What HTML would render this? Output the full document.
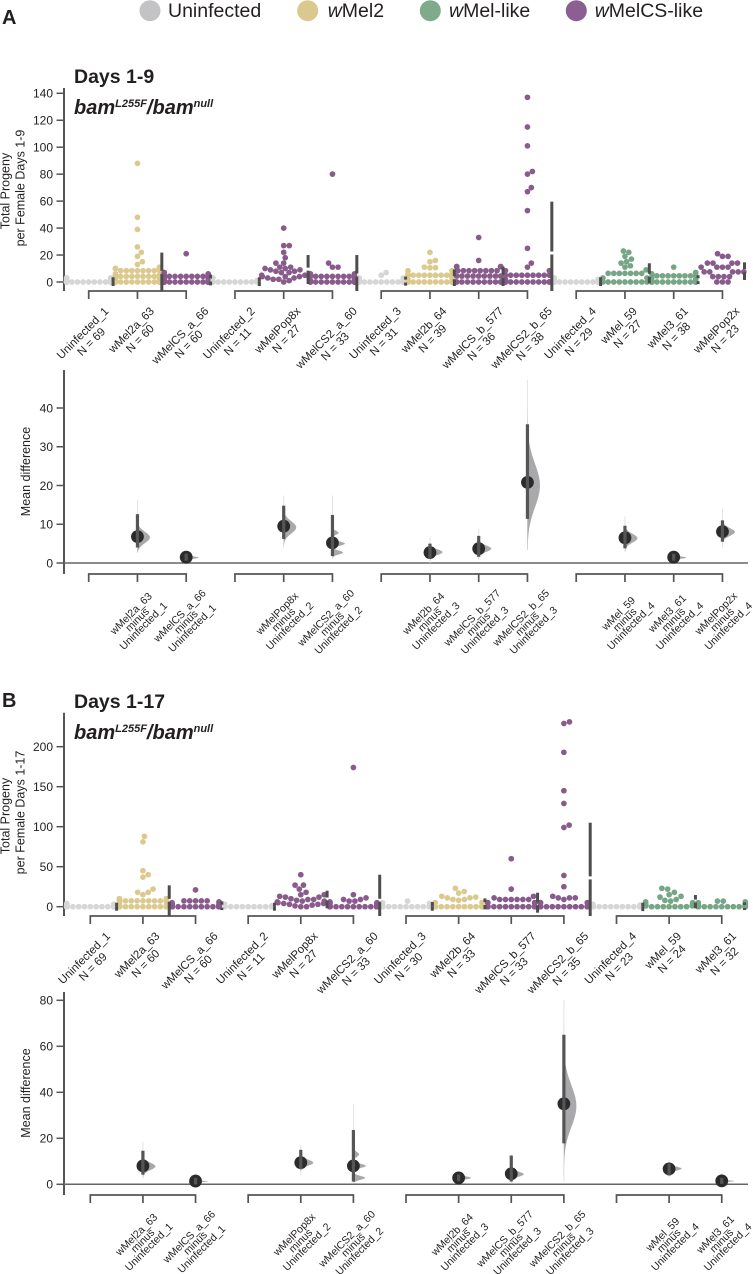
<!DOCTYPE html>
<html lang="en">
<head>
<meta charset="utf-8">
<title>Progeny per female estimation plots</title>
<style>
html,body{margin:0;padding:0;background:#fff;}
svg{display:block;font-family:"Liberation Sans",Arial,sans-serif;fill:#231f20;}
</style>
</head>
<body>
<svg id="figure" width="753" height="1274" viewBox="0 0 753 1274" xmlns="http://www.w3.org/2000/svg">
  <g font-size="19.5">
    <circle cx="150" cy="10.7" r="10.5" fill="#c3c3c5"/>
    <text x="168" y="17">Uninfected</text>
    <circle cx="307.7" cy="10.7" r="10.5" fill="#d9c98f"/>
    <text x="327.7" y="17"><tspan font-style="italic">w</tspan>Mel2</text>
    <circle cx="430.3" cy="10.7" r="10.5" fill="#7fab8a"/>
    <text x="449" y="17"><tspan font-style="italic">w</tspan>Mel-like</text>
    <circle cx="576.3" cy="10.7" r="10.5" fill="#8b5f92"/>
    <text x="594.7" y="17"><tspan font-style="italic">w</tspan>MelCS-like</text>
  </g>
  <text x="2" y="24" font-size="20" font-weight="bold">A</text>
  <text x="74" y="83" font-size="19.5" font-weight="bold">Days 1-9</text>
  <text x="74" y="114" font-size="20" font-weight="bold" font-style="italic">bam<tspan font-size="11" dy="-7">L255F</tspan><tspan dy="7">/bam</tspan><tspan font-size="11" dy="-7">null</tspan></text>
  <text transform="translate(9.5,191) rotate(-90)" font-size="12.5" text-anchor="middle">Total Progeny</text>
  <text transform="translate(24.5,188) rotate(-90)" font-size="12.5" text-anchor="middle">per Female Days 1-9</text>
  <text transform="translate(30,471.5) rotate(-90)" font-size="12.5" text-anchor="middle">Mean difference</text>
  <text x="2" y="707" font-size="20" font-weight="bold">B</text>
  <text x="74" y="708" font-size="19.5" font-weight="bold">Days 1-17</text>
  <text x="74" y="739" font-size="20" font-weight="bold" font-style="italic">bam<tspan font-size="11" dy="-7">L255F</tspan><tspan dy="7">/bam</tspan><tspan font-size="11" dy="-7">null</tspan></text>
  <text transform="translate(9.5,816) rotate(-90)" font-size="12.5" text-anchor="middle">Total Progeny</text>
  <text transform="translate(24.5,812.5) rotate(-90)" font-size="12.5" text-anchor="middle">per Female Days 1-17</text>
  <text transform="translate(30,1093) rotate(-90)" font-size="12.5" text-anchor="middle">Mean difference</text>
</svg>
<script>
// ---------- Panel A data ----------
const groupsA = ["Uninfected_1","wMel2a_63","wMelCS_a_66","Uninfected_2","wMelPop8x","wMelCS2_a_60","Uninfected_3","wMel2b_64","wMelCS_b_577","wMelCS2_b_65","Uninfected_4","wMel_59","wMel3_61","wMelPop2x"];
const countsA = [69,60,60,11,27,33,31,39,36,38,29,27,38,23];
const familiesA = ["u","m2","cs","u","cs","cs","u","m2","cs","cs","u","ml","ml","cs"];
const valuesA = [
 [0,0,0,0,0,0,0,0,0,0,0,0,0,0,0,0,0,0,0,0,0,0,0,0,0,0,0,0,0,0,0,0,0,0,0,0,0,0,0,0,0,0,0,0,0,0,0,0,0,0,0,0,0,0,0,1,1,1,1,2,2,2,2,2,3,3,3,3,3],
 [0,0,0,0,0,0,0,0,0,0,0,0,0,0,0,0,0,0,0,0,1,2,3,4.2,4.2,4.2,4.2,4.2,4.2,4.2,4.2,4.2,4.2,4.2,4.2,4.2,5,6,8.4,8.4,8.4,8.4,8.4,8.4,8.4,8.4,10,10,10,10,10,11,13,15,19,22,26,39,48,88],
 [0,0,0,0,0,0,0,0,0,0,0,0,0,0,0,0,0,0,0,0,0,0,0,0,0,0,0,0,0,0,0,1,2,2,3,4.2,4.2,4.2,4.2,4.2,4.2,4.2,4.2,4.2,4.2,4.2,4.2,4.2,4.2,4.2,4.2,4.2,4.2,4.2,4.2,5,6,7,7,21],
 [0,0,0,0,0,0,0,0,0,1,3],
 [0,1,2,2,3,3,4,4,4,5,5,7,7,8,8,9,9,10,10,11,11,14,14,18,22,27,27,40],
 [0,0,0,0,0,0,0,0,0,0,0,0,0,0,1,2,4.2,4.2,4.2,4.2,4.2,4.2,4.2,4.2,4.2,4.2,5,6,6,11,11,14,80],
 [0,0,0,0,0,0,0,0,0,0,0,0,0,0,0,0,0,0,0,0,0,0,1,1,1,2,2,3,3,5,7],
 [0,0,0,0,0,0,0,0,0,0,0,0,0,0,0,0,2,3,5,5,5,5,5,5,5,5,5,5,5,6,6,8.4,8.4,10.6,10.6,11,15,16,22],
 [0,0,0,0,0,0,0,0,0,0,0,4.4,4.4,4.4,4.4,4.4,4.4,4.4,4.4,4.4,8.4,8.4,8.4,8.4,8.4,8.4,8.4,8.4,11.4,11.4,11.4,11.4,11.4,11.4,16,33],
 [0,0,0,0,0,0,0,0,0,0,0,0,0,0,2,5,5,5,5,5,5,5,5,5,8.4,8.4,8.4,11,14,25,53,67,70,80,82,101,115,137],
 [0,0,0,0,0,0,0,0,0,0,0,0,0,0,0,0,0,0,0,0,0,0,0,0,0,1,1,2,3],
 [0,0,0,0,0,0,0,0,0,3,3,6.4,6.4,6.4,6.4,6.4,6.4,6.4,9,11,12,14,15,17,19,22,23],
 [0,0,0,0,0,0,0,0,0,0,0,0,0,0,0,0,0,0,0,0,0,0,1,2,3,4.6,4.6,4.6,4.6,4.6,4.6,4.6,4.6,6,6,7,7,11],
 [0,0,0,4,4,4,4,7.5,7.5,7.5,7.5,7.5,11,11,11,11,14,14,14,14,19,19,21]
];
const barUpperA = [3.5,21.8,5.5,3.5,20,20,4,9.4,11.4,59.6,3.5,13.9,5,14.6];
const barCenterA = [0.3,7.2,1.5,0.3,9.5,5.2,0.7,3.2,4.3,21.5,0.3,5,1.7,8.4];
const barLowerA = [-3,-7.3,-2.5,-3,-1.5,-9.8,-2.7,-3,-3,-17,-3,-1,-1.5,1.5];
const yTicksA = [0,20,40,60,80,100,120,140];
const deltaTicksA = [0,10,20,30,40];
const deltaMeanA = [null,6.8,1.5,null,9.5,5.2,null,2.7,3.7,20.8,null,6.5,1.5,8.1];
const ciLowA = [null,4,0.6,null,6.2,1.8,null,1.2,1.6,11.4,null,3.8,0.6,5.5];
const ciHighA = [null,12.6,2.4,null,14.8,12.4,null,5,7,35.8,null,9.6,2.4,11];
const tailLowA = [null,2.7,0.7,null,4,1,null,0,0.8,3.4,null,2.9,0.7,4];
const tailHighA = [null,16.3,3.2,null,17.4,17.4,null,6.8,8.8,47.3,null,12,3.2,14];
const modesA = [null,[[6.6,1.45,1]],[[1.4,0.3,1]],null,[[9.2,1.6,1]],[[7.8,0.5,0.5],[5,0.55,1],[2.7,0.5,0.85]],null,[[2.8,0.75,1]],[[3.7,0.85,1]],[[20,5.6,1]],null,[[6.4,1.15,1]],[[1.4,0.3,1]],[[8,1,1]]];

// ---------- Panel B data ----------
const groupsB = ["Uninfected_1","wMel2a_63","wMelCS_a_66","Uninfected_2","wMelPop8x","wMelCS2_a_60","Uninfected_3","wMel2b_64","wMelCS_b_577","wMelCS2_b_65","Uninfected_4","wMel_59","wMel3_61"];
const countsB = [69,60,60,11,27,33,30,33,33,35,23,24,32];
const familiesB = ["u","m2","cs","u","cs","cs","u","m2","cs","cs","u","ml","ml"];
const valuesB = [
 [0,0,0,0,0,0,0,0,0,0,0,0,0,0,0,0,0,0,0,0,0,0,0,0,0,0,0,0,0,0,0,0,0,0,0,0,0,0,0,0,0,0,0,0,0,0,0,0,0,0,0,0,0,0,0,0,0,0,0,0,1,1,1,1,2,2,2,3,4],
 [0,0,0,0,0,0,0,0,0,0,0,0,0,0,0,0,0,0,0,0,0,0,0,0,0,0,0,0,0,0,1,2,3,7.3,7.3,7.3,7.3,7.3,7.3,7.3,7.3,7.3,7.3,7.3,7.3,9,9,10,10,10,10,15,18,18,22,37,40,45,81,88],
 [0,0,0,0,0,0,0,0,0,0,0,0,0,0,0,0,0,0,0,0,0,0,0,0,0,0,0,0,0,0,0,0,0,0,0,0,0,0,0,0,0,0,1,1,1,2,2,2,3,3,4,5,5,6,7.3,7.3,7.3,7.3,7.3,21],
 [0,0,0,0,0,0,0,0,0,1,3],
 [0,0,1,2,3,3,4,4,5,5,6,7,7,8,9,9,10,12,12,13,15,15,18,22,27,27,40],
 [0,0,0,0,0,0,0,0,0,0,0,0,0,0,0,0,0,0,0,1,2,3,5,5,5,6,7,7,9,9,11,15,174],
 [0,0,0,0,0,0,0,0,0,0,0,0,0,0,0,0,0,0,0,0,0,0,0,0,1,1,2,4,5,7],
 [0,0,0,0,0,0,0,0,0,0,0,0,0,0,0,1,5,5,5,5,5,5,5,8,9,9,11,11,12,13,17,19,23],
 [0,0,0,0,0,0,0,0,0,0,0,0,0,0,0,5,5,5,5,5,5,5,5,9,9,9,9,9,9,11,13,22,60],
 [0,0,0,0,0,0,0,0,0,0,0,0,0,0,5,5,5,5,5,5,5,9,11,11,11,13,25,39,99,102,129,145,193,229,231],
 [0,0,0,0,0,0,0,0,0,0,0,0,0,0,0,0,0,0,0,0,1,2,3],
 [0,0,0,0,0,0,0,1,1,2,2,3,4,5,6,7,8,9,12,13,15,18,22,23],
 [0,0,0,0,0,0,0,0,0,0,0,0,0,0,0,0,0,0,0,0,1,1,2,2,3,3,4,4,5,6,7,7]
];
const barUpperB = [5,26.7,6.7,5,20,40,5.8,10.4,17.5,105,5,14.6,5.4];
const barCenterB = [0,8,0.6,0,9.6,8,0,4,3.7,36,0,7,0.2];
const barLowerB = [-5,-12,-4.2,-5,-2,-12,-5,-3.3,-7.5,-12,-5.5,-2,-4.2];
const yTicksB = [0,50,100,150,200];
const deltaTicksB = [0,20,40,60,80];
const deltaMeanB = [null,8,1.4,null,9.4,8,null,2.8,4.6,35,null,6.7,1.5];
const ciLowB = [null,4.2,0,null,6.6,1.2,null,1.3,1.2,17.8,null,3.8,0.2];
const ciHighB = [null,14.6,2.8,null,15,23.6,null,4.3,12.5,65,null,9,2.8];
const tailLowB = [null,2.6,0.6,null,4,0.8,null,1,0.5,1.4,null,3,0.5];
const tailHighB = [null,18.5,5,null,17,34.8,null,5.5,13,80,null,10.6,5];
const modesB = [null,[[7.8,1.6,1]],[[1.3,0.25,1]],null,[[9.4,1.3,1]],[[13,1.1,0.45],[8,0.9,1],[2.8,0.85,0.95]],null,[[2.8,0.65,1]],[[4.4,1.1,1]],[[34,9,1]],null,[[6.8,0.85,1]],[[1.4,0.3,1]]];

// ---------- Drawing ----------
const svg = document.getElementById('figure');
const NS = 'http://www.w3.org/2000/svg';
const INK = '#555555';
const dotColors = {u:'#d6d6d6', m2:'#dbc98d', ml:'#76a685', cs:'#885b8c'};

function mk(tag, attrs, parent) {
  const el = document.createElementNS(NS, tag);
  for (const k in attrs) el.setAttribute(k, attrs[k]);
  parent.appendChild(el);
  return el;
}

function swarm(vals, yPx, d, limit) {
  const sorted = vals.slice().sort((a, b) => a - b);
  const placed = [];
  sorted.forEach(v => {
    const y = yPx(v);
    const near = placed.filter(p => Math.abs(p.y - y) < d);
    const cands = [0];
    near.forEach(n => {
      const dx = Math.sqrt(d * d - (n.y - y) * (n.y - y));
      cands.push(n.off + dx, n.off - dx);
    });
    const ok = cands.filter(c => near.every(n => Math.hypot(n.off - c, n.y - y) >= d - 1e-6));
    ok.sort((a, b) => (Math.abs(a) - Math.abs(b)) || (b - a));
    placed.push({y: y, off: ok[0], v: v});
  });
  placed.forEach(p => { p.off = Math.max(-limit, Math.min(limit, p.off)); });
  return placed;
}

function drawLabel(parent, lines, cx, top, size, lh) {
  const t = mk('text', {'font-size': size, 'text-anchor': 'middle'}, parent);
  const h = lines.length * lh;
  lines.forEach((line, i) => {
    const s = mk('tspan', {x: 0, y: -h / 2 + lh * i + lh * 0.78}, t);
    s.textContent = line;
  });
  let w = 0;
  t.querySelectorAll('tspan').forEach(s => { w = Math.max(w, s.getComputedTextLength()); });
  const cy = top + (w + h) * Math.SQRT1_2 / 2;
  t.setAttribute('transform', 'translate(' + cx + ',' + cy + ') rotate(-45)');
  return t;
}

function drawAxisY(parent, xAxis, yTop, yBottom, ticks, y) {
  const axis = mk('line', {x1: xAxis, x2: xAxis, y1: yTop, y2: yBottom, stroke: INK, 'stroke-width': 2}, parent);
  
  
  ticks.forEach(v => {
    const tick = mk('line', {x1: xAxis - 7.5, x2: xAxis, y1: y(v), y2: y(v), stroke: INK, 'stroke-width': 1.5}, parent);
    
    
    const lab = mk('text', {x: xAxis - 11, y: y(v) + 4.3, 'font-size': 12, 'text-anchor': 'end'}, parent);
    
    
    lab.textContent = v;
  });
}

function drawBrackets(parent, x, yB, spans) {
  spans.forEach(sp => {
    const path = mk('path', {d: 'M' + x(sp[0]) + ' ' + (yB + 8) + 'V' + yB + 'H' + x(sp[1]) + 'V' + (yB + 8), fill: 'none', stroke: INK, 'stroke-width': 1.7}, parent);
    
    
    for (let i = sp[0] + 1; i < sp[1]; i++) {
      const tk = mk('line', {x1: x(i), x2: x(i), y1: yB, y2: yB + 8, stroke: INK, 'stroke-width': 1.7}, parent);
      
      
    }
  });
}

function drawPanel(p) {
  const x = i => p.x0 + p.dx * i;
  const y = v => p.y0 - v * p.yk;
  const yd = v => p.d0 - v * p.dk;

  const top = mk('g', {}, svg);
  
  
  drawAxisY(top, 64, p.yTop, p.yBottom, p.yTicks, y);
  drawBrackets(top, x, p.yBottom, p.spans);

  p.groups.forEach((name, i) => {
    const g = mk('g', {fill: dotColors[p.families[i]]}, top);
    
    
    swarm(p.values[i], y, p.dotGap, p.swarmHalf).forEach(pt => {
      const dot = mk('circle', {cx: x(i) + pt.off, cy: y(pt.v), r: 2.85}, g);
      
      
    });
  });

  p.groups.forEach((name, i) => {
    const bx = Math.min(x(i) + p.dx / 2, 744.5);
    const lo = Math.min(y(p.barLower[i]), p.yBottom);
    const hasGap = name.indexOf('Uninfected') !== 0 || p.gapUninfected.indexOf(name) >= 0;
    const gap = hasGap ? 1.5 : 0;
    const upper = mk('line', {x1: bx, x2: bx, y1: y(p.barUpper[i]), y2: y(p.barCenter[i]) - gap, stroke: '#4d4d4d', 'stroke-width': 3, 'stroke-linecap': 'butt'}, top);
    
    
    const lower = mk('line', {x1: bx, x2: bx, y1: y(p.barCenter[i]) + gap, y2: lo, stroke: '#4d4d4d', 'stroke-width': 3, 'stroke-linecap': 'butt'}, top);
    
    

    const lab = drawLabel(top, [name, 'N = ' + p.counts[i]], x(i) - 1.5, p.labelTop, 11.5, 12.3);
    
    
  });

  const low = mk('g', {}, svg);
  
  
  drawAxisY(low, 64, p.dTop, p.dBottom, p.dTicks, yd);
  drawBrackets(low, x, p.dBottom, p.spans);
  const zero = mk('line', {x1: 64, x2: 748, y1: yd(0), y2: yd(0), stroke: '#666', 'stroke-width': 1.5}, low);
  
  

  p.groups.forEach((name, i) => {
    const mean = p.deltaMean[i];
    if (mean === null) return;
    const cx = x(i);
    const g = mk('g', {}, low);
    
    

    const tail = mk('line', {x1: cx, x2: cx, y1: yd(p.tailHigh[i]), y2: yd(p.tailLow[i]), stroke: '#e3e3e3', 'stroke-width': 1}, g);
    
    

    const density = v => p.modes[i].reduce((s, m) => s + m[2] * Math.exp(-0.5 * Math.pow((v - m[0]) / m[1], 2)), 0);
    const steps = 160;
    let peak = 0;
    const samples = [];
    for (let s = 0; s <= steps; s++) {
      const v = p.tailLow[i] + (p.tailHigh[i] - p.tailLow[i]) * s / steps;
      const dv = density(v);
      samples.push([v, dv]);
      peak = Math.max(peak, dv);
    }
    let dPath = 'M' + cx + ' ' + yd(p.tailLow[i]);
    samples.forEach(sm => { dPath += 'L' + (cx + 12.5 * sm[1] / peak).toFixed(2) + ' ' + yd(sm[0]).toFixed(2); });
    dPath += 'L' + cx + ' ' + yd(p.tailHigh[i]) + 'Z';
    const violin = mk('path', {d: dPath, fill: '#a9a9ab'}, g);
    
    

    const dot = mk('circle', {cx: cx, cy: yd(mean), r: 6.4, fill: '#2b2b2b'}, g);
    
    
    const ci = mk('line', {x1: cx, x2: cx, y1: yd(p.ciHigh[i]), y2: yd(p.ciLow[i]), stroke: '#555', 'stroke-width': 3.2}, g);
    
    

    const span = p.spans.find(sp => i >= sp[0] && i <= sp[1]);
    const lab = drawLabel(low, [name, 'minus', p.groups[span[0]]], cx + 0.5, p.deltaLabelTop, 10.6, 8.8);
    
    
  });
}

drawPanel({
  id: 'panel-a', groups: groupsA, counts: countsA, families: familiesA, values: valuesA,
  barUpper: barUpperA, barCenter: barCenterA, barLower: barLowerA, gapUninfected: ['Uninfected_3'],
  yTicks: yTicksA, dTicks: deltaTicksA, deltaMean: deltaMeanA, ciLow: ciLowA, ciHigh: ciHighA,
  tailLow: tailLowA, tailHigh: tailHighA, modes: modesA,
  spans: [[0,2],[3,5],[6,9],[10,13]],
  x0: 88.7, dx: 48.75, y0: 282, yk: 1.348, yTop: 88, yBottom: 291,
  d0: 563, dk: 3.875, dTop: 370, dBottom: 574, labelTop: 305, deltaLabelTop: 589,
  dotGap: 5.6, swarmHalf: 22
});

drawPanel({
  id: 'panel-b', groups: groupsB, counts: countsB, families: familiesB, values: valuesB,
  barUpper: barUpperB, barCenter: barCenterB, barLower: barLowerB, gapUninfected: [],
  yTicks: yTicksB, dTicks: deltaTicksB, deltaMean: deltaMeanB, ciLow: ciLowB, ciHigh: ciHighB,
  tailLow: tailLowB, tailHigh: tailHighB, modes: modesB,
  spans: [[0,2],[3,5],[6,9],[10,12]],
  x0: 90.3, dx: 52.62, y0: 906.7, yk: 0.8, yTop: 712.7, yBottom: 916,
  d0: 1184.3, dk: 2.3, dTop: 992, dBottom: 1195, labelTop: 930, deltaLabelTop: 1210,
  dotGap: 5.8, swarmHalf: 23.5
});
</script>
</body>
</html>
